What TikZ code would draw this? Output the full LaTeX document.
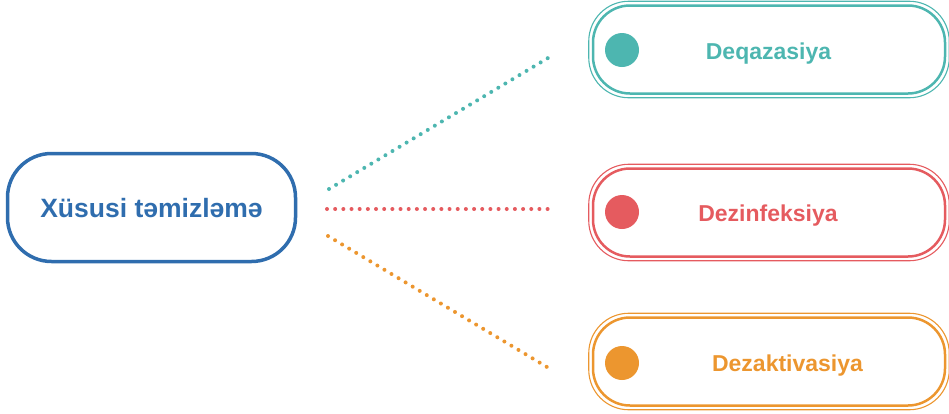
\documentclass[tikz,border=0pt]{standalone}
\usepackage{fontspec}
\setmainfont{Liberation Sans}
\definecolor{cblue}{HTML}{2F6DAE}
\definecolor{cteal}{HTML}{4DB6B0}
\definecolor{cred}{HTML}{E55B5F}
\definecolor{corange}{HTML}{EC962F}
\begin{document}
\begin{tikzpicture}[x=1pt,y=-1pt,
  mainbox/.style={draw=cblue, line width=3.5pt, rounded corners=44pt, minimum width=288pt, minimum height=108pt, inner sep=0pt},
  catbox/.style={draw=#1, line width=2.5pt, rounded corners=37pt, minimum width=352pt, minimum height=88pt, inner sep=0pt},
  outerline/.style={draw=#1, line width=1.1pt, rounded corners=40pt},
  dotline/.style={draw=#1, line width=4pt, line cap=round},
  dotc/.style={circle, fill=#1, minimum size=34pt, inner sep=0pt},
  lbl/.style={text=#1, font=\bfseries\fontsize{23}{26}\selectfont, anchor=base, inner sep=0pt}
]
\useasboundingbox (0,0) rectangle (949,413);
% main node
\node[mainbox] (main) at (151.5,207.5) {};
\node[text=cblue, font=\bfseries\fontsize{26.5}{30}\selectfont, anchor=base, inner sep=0pt] (maintxt) at (151.5,217.7) {Xüsusi təmizləmə};
% category boxes
\node[catbox=cteal] (deq) at (769,49.5) {};
\draw[outerline=cteal] ([shift={(-3,-3)}]deq.north west) rectangle ([shift={(3,3)}]deq.south east);
\node[dotc=cteal] (deqdot) at (622,50) {};
\node[lbl=cteal] (deqtxt) at (768.5,59.3) {Deqazasiya};

\node[catbox=cred] (dez) at (769,212.5) {};
\draw[outerline=cred] ([shift={(-3,-3)}]dez.north west) rectangle ([shift={(3,3)}]dez.south east);
\node[dotc=cred] (dezdot) at (622,212) {};
\node[lbl=cred] (deztxt) at (768,221.7) {Dezinfeksiya};

\node[catbox=corange] (dea) at (769,361.5) {};
\draw[outerline=corange] ([shift={(-3,-3)}]dea.north west) rectangle ([shift={(3,3)}]dea.south east);
\node[dotc=corange] (deadot) at (622,363) {};
\node[lbl=corange] (deatxt) at (787.5,371) {Dezaktivasiya};
% connector ends
\coordinate (s1) at (329,189);
\coordinate (e1) at (548,58);
\coordinate (s2) at (327,209);
\coordinate (e2) at (548,209);
\coordinate (s3) at (328,236);
\coordinate (e3) at (547,367);
\draw[dotline=cteal, dash pattern=on 0pt off 8.22pt] (s1) -- (e1);
\draw[dotline=cred, dash pattern=on 0pt off 8.17pt] (s2) -- (e2);
\draw[dotline=corange, dash pattern=on 0pt off 8.22pt] (s3) -- (e3);
\end{tikzpicture}
\end{document}
